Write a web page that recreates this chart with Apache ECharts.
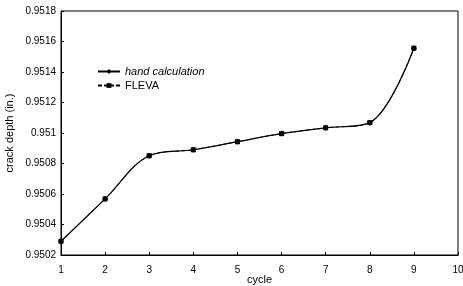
<!DOCTYPE html>
<html>
<head>
<meta charset="utf-8">
<script src="https://cdn.jsdelivr.net/npm/echarts@6/dist/echarts.min.js"></script>
<style>
  html, body { margin: 0; padding: 0; background: #fff; }
  #chart { width: 463px; height: 286px; }
</style>
</head>
<body>
<div id="chart"></div>
<script>
// ---- Data ----
const cycles = [1, 2, 3, 4, 5, 6, 7, 8, 9];
const handCalc = [0.95029, 0.950568, 0.950851, 0.95089, 0.950943, 0.950996, 0.951034, 0.951068, 0.951556];
const fleva = [0.95029, 0.950568, 0.950851, 0.95089, 0.950943, 0.950996, 0.951034, 0.951068, 0.951556];

const pairs = (xs, ys) => xs.map((x, i) => [x, ys[i]]);

document.addEventListener('DOMContentLoaded', () => {
  const chart = echarts.init(document.getElementById('chart'));
  const font = 'Liberation Sans, Arial, sans-serif';

  const option = {
    animation: false,
    textStyle: { fontFamily: font, color: '#000' },
    grid: {
      left: 61, right: 5, top: 11, bottom: 31,
      outerBoundsMode: 'none',
      containLabel: false,
      show: true, borderColor: '#000', borderWidth: 1
    },
    legend: {
      orient: 'vertical',
      left: 92, top: 61,
      itemWidth: 22, itemHeight: 6, itemGap: 3,
      data: [
        { name: 'hand calculation', textStyle: { fontStyle: 'italic' } },
        { name: 'FLEVA' }
      ],
      textStyle: { fontFamily: font, fontSize: 11, color: '#000' }
    },
    xAxis: {
      type: 'value',
      min: 1, max: 10, interval: 1,
      name: 'cycle',
      nameLocation: 'middle',
      nameGap: 19,
      nameMoveOverlap: false,
      nameTextStyle: { fontSize: 11, fontFamily: font },
      axisLine: { lineStyle: { color: '#000' } },
      axisTick: { inside: true, length: 3, lineStyle: { color: '#000' } },
      axisLabel: { fontSize: 10, margin: 10, color: '#000' },
      splitLine: { show: false }
    },
    yAxis: {
      type: 'value',
      min: 0.9502, max: 0.9518, interval: 0.0002,
      name: 'crack depth (in.)',
      nameLocation: 'middle',
      nameGap: 46,
      nameMoveOverlap: false,
      nameTextStyle: { fontSize: 11, fontFamily: font },
      axisLine: { show: true, lineStyle: { color: '#000' } },
      axisTick: { inside: true, length: 3, lineStyle: { color: '#000' } },
      axisLabel: {
        fontSize: 10, color: '#000', margin: 5,
        formatter: v => String(+v.toFixed(4))
      },
      splitLine: { show: false }
    },
    series: [
      {
        name: 'hand calculation',
        type: 'line',
        data: pairs(cycles, handCalc),
        smooth: 0.35,
        symbol: 'diamond',
        symbolSize: 6,
        itemStyle: { color: '#000' },
        lineStyle: { width: 1.2, color: '#000' }
      },
      {
        name: 'FLEVA',
        type: 'line',
        data: pairs(cycles, fleva),
        smooth: 0.35,
        symbol: 'rect',
        symbolSize: 5,
        itemStyle: { color: '#000' },
        lineStyle: { width: 1, color: '#000', type: [4, 2] }
      }
    ]
  };

  chart.setOption(option);
  window.addEventListener('resize', () => chart.resize());
});
</script>
</body>
</html>
